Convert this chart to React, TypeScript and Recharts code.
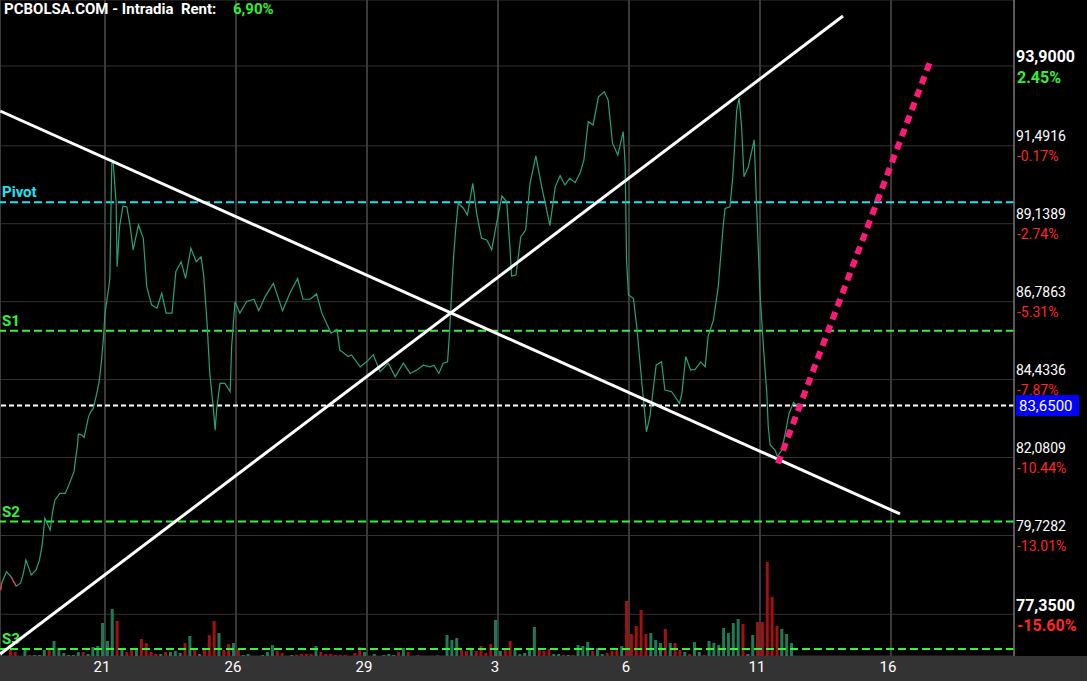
import {
  Bar,
  CartesianGrid,
  ComposedChart,
  Line,
  ReferenceLine,
  XAxis,
  YAxis,
} from 'recharts'

// x is measured in hourly bars (9 per session); ticks sit on session boundaries
const dayTicks = [21.5, 48.5, 75.5, 102.5, 129.5, 156.5, 183.5]
const dayLabels = ['21', '26', '29', '3', '6', '11', '16']

const priceTicks = [93.9, 91.4916, 89.1389, 86.7863, 84.4336, 82.0809, 79.7282, 77.35]
const pctLabels = ['2.45%', '-0.17%', '-2.74%', '-5.31%', '-7.87%', '-10.44%', '-13.01%', '-15.60%']

const levelNames = ['Pivot', 'S1', 'S2', 'S3']
const levelValues = [89.79, 85.91, 80.15, 76.3]
const levelColors = ['#1fe3f2', '#3af03a', '#3af03a', '#3af03a']
const lastPrice = 83.65

// intraday price trace (bar index, price)
const priceIdx = [
  0, 0.2, 1.2, 2.1, 3.2, 4.1, 4.7, 5.2, 5.7, 6.3, 7.3, 8.0, 8.5, 8.8, 9.1, 9.7, 10.2, 10.7, 11.2, 12.2,
  13.3, 13.9, 14.6, 15.1, 15.5, 15.8, 16.0, 16.7, 17.2, 17.6, 18.1, 18.6, 19.1, 19.8, 20.3, 20.8, 21.2, 21.5, 21.9, 22.2,
  22.5, 22.9, 23.2, 23.8, 24.0, 24.5, 25.2, 26.0, 26.7, 27.3, 28.4, 29.4, 30.1, 31.1, 32.2, 33.2, 34.1, 35.3, 36.1, 37.2,
  38.1, 39.2, 40.3, 41.3, 41.8, 42.5, 43.1, 43.8, 44.2, 44.5, 45.2, 46.2, 47.3, 47.6, 48.3, 49.3, 50.7, 52.2, 53.2, 54.5,
  56.2, 58.1, 59.6, 61.2, 62.3, 63.8, 65.1, 66.2, 68.1, 69.3, 69.9, 71.6, 72.3, 74.1, 75.4, 76.8, 78.2, 79.9, 81.3, 83.0,
  84.4, 85.7, 87.1, 88.5, 89.3, 90.3, 91.2, 92.1, 92.5, 93.0, 93.4, 93.8, 94.3, 95.4, 96.2, 97.3, 98.1, 99.1, 100.2, 101.2,
  102.2, 103.3, 104.3, 105.0, 105.3, 106.2, 107.2, 108.2, 109.1, 110.3, 111.5, 112.4, 113.2, 114.3, 115.3, 116.3, 117.3, 118.4, 119.4, 120.2,
  121.1, 122.1, 123.2, 124.4, 125.2, 126.1, 127.2, 128.3, 128.7, 129.0, 129.4, 130.4, 131.1, 132.1, 133.1, 133.8, 135.1, 136.2, 136.9, 138.3,
  139.9, 140.4, 141.2, 142.2, 143.1, 144.3, 145.2, 145.8, 146.9, 147.9, 148.9, 149.3, 150.3, 150.9, 151.7, 152.2, 152.7, 153.2, 154.1, 155.3,
  155.7, 156.5, 157.2, 157.9, 158.2, 158.6, 159.6, 160.1, 161.0, 161.7, 162.5, 163.4, 164.1,
]
const priceVal = [
  78.08, 78.29, 78.64, 78.49, 78.2, 78.29, 78.6, 78.99, 78.79, 78.54, 78.69, 78.99, 79.39, 79.79, 80.25, 80.05, 79.89, 80.45, 80.8, 81.0,
  81.0, 81.2, 81.46, 81.65, 82.11, 82.41, 82.79, 82.76, 82.69, 82.96, 83.31, 83.47, 83.57, 84.02, 84.37, 85.03, 85.73, 86.44, 86.84, 87.14,
  87.49, 90.96, 90.96, 89.76, 87.84, 89.05, 89.67, 89.65, 89.05, 88.35, 89.1, 88.7, 87.24, 86.69, 86.59, 87.04, 86.44, 86.44, 87.69, 87.99,
  87.49, 88.4, 87.99, 88.14, 87.64, 86.23, 84.62, 83.62, 82.91, 83.52, 84.32, 84.32, 84.07, 85.43, 86.79, 86.44, 86.79, 86.86, 86.51, 86.94,
  87.34, 86.51, 87.04, 87.49, 86.86, 86.86, 87.02, 86.44, 85.83, 85.95, 85.33, 85.13, 85.18, 84.82, 84.97, 85.18, 84.67, 84.93, 84.52, 84.93,
  84.62, 84.72, 84.87, 84.82, 84.87, 84.62, 84.93, 84.97, 85.83, 87.24, 88.25, 89.0, 89.76, 89.6, 89.4, 90.36, 89.45, 88.7, 88.65, 88.35,
  89.15, 89.98, 89.8, 88.35, 87.56, 87.59, 88.75, 88.95, 90.36, 91.19, 90.26, 89.65, 89.08, 90.26, 90.59, 90.31, 90.51, 90.38, 90.66, 91.06,
  92.22, 92.12, 92.97, 93.12, 92.87, 91.57, 91.21, 91.92, 90.96, 88.04, 86.99, 86.89, 86.03, 84.42, 82.86, 83.31, 84.87, 84.97, 84.12, 84.07,
  83.72, 84.02, 85.13, 84.72, 84.74, 84.97, 84.82, 85.73, 86.23, 87.24, 89.05, 89.6, 89.65, 90.56, 92.57, 92.93, 92.07, 90.56, 90.86, 91.67,
  90.06, 87.04, 85.43, 84.02, 83.01, 82.46, 82.31, 82.11, 82.31, 82.81, 83.42, 83.74, 83.65,
]
// stretches of the trace painted red
const downIdx = [0, 0.2, 1.2, 2.1, 3.2]
const downVal = [78.08, 78.29, null, 78.49, 78.2]

// hourly volume, thousands of shares; g = up bar, r = down bar
const volume = [
  4, 0, 12, 8, 0, 12, 2, 2, 2, 12, 14, 30, 16, 6, 2, 2, 8, 8, 4, 18,
  20, 66, 30, 94, 70, 12, 8, 14, 12, 34, 26, 8, 4, 4, 8, 8, 10, 6, 26, 40,
  14, 4, 12, 42, 70, 46, 12, 24, 26, 14, 2, 4, 0, 0, 2, 8, 22, 10, 6, 0,
  2, 2, 4, 4, 4, 20, 8, 4, 4, 2, 2, 2, 0, 6, 18, 8, 0, 4, 0, 2,
  4, 2, 8, 16, 8, 0, 2, 0, 0, 0, 2, 0, 42, 32, 36, 12, 10, 12, 10, 20,
  6, 24, 72, 10, 16, 30, 12, 4, 6, 14, 58, 12, 10, 14, 4, 4, 2, 2, 2, 22,
  20, 28, 10, 16, 4, 6, 10, 12, 20, 110, 44, 60, 92, 44, 46, 32, 26, 54, 26, 26,
  12, 8, 4, 28, 8, 2, 30, 26, 22, 56, 46, 66, 74, 64, 4, 42, 68, 68, 188, 118,
  60, 54, 44, 26,
]
const volumeDir = [
  'ggrrggrggg', 'rggggggrgg', 'ggggrgrrgr', 'rrrgrgggrg', 'rgrrrgrrgr', 'gggggggrrg',
  'grrrrgrrrr', 'rrgrrggggg', 'ggrgrgrggg', 'rggggrrgrr', 'rrggrrgggg', 'grrrggrgrg',
  'ggrggrrrgr', 'rrrrgggrgr', 'rgrggrgggg', 'gggrggrrrr', 'rggg',
].join('')

// hand-drawn trend lines (bar index, price)
const trendDownIdx = [-0.1, 185.35]
const trendDownVal = [92.54, 80.38]
const trendUpIdx = [-0.1, 173.6]
const trendUpVal = [76.15, 95.41]
const projectionIdx = [160.2, 191.6]
const projectionVal = [81.9, 94.05]

const xDomain = [-0.14, 208.85]
const priceDomain = [76.091, 95.892]
const volumeMax = 1312

const chartData = volume.map((vol, i) => ({ i, vol, dir: volumeDir[i] }))
const toPoints = (idx: number[], val: (number | null)[]) => idx.map((i, k) => ({ i, v: val[k] }))
const pricePoints = toPoints(priceIdx, priceVal)
const downPoints = toPoints(downIdx, downVal)

const fmtPrice = (v: number) => v.toFixed(4).replace('.', ',')

function VolumeBar(props: any) {
  const { x, y, width, height, payload } = props
  if (!height || height <= 0) return null
  const cx = x + width / 2
  return (
    <rect
      x={cx - 1.5}
      y={y}
      width={3}
      height={height}
      fill={payload.dir === 'r' ? '#a01212' : '#1f7a55'}
    />
  )
}

function PriceTick(props: any) {
  const { x, y, payload } = props
  const idx = priceTicks.findIndex((t) => Math.abs(t - payload.value) < 1e-6)
  if (idx < 0) return null
  const strong = idx === 0 || idx === priceTicks.length - 1
  const pct = pctLabels[idx]
  const pctColor = pct.startsWith('-') ? '#ff2626' : '#33ee33'
  return (
    <g>
      <text
        x={x}
        y={y - (strong ? 3.5 : 4.5)}
        fill="#ffffff"
        fontSize={strong ? 16 : 14}
        fontWeight={strong ? 700 : 400}
        textAnchor="start"
      >
        {fmtPrice(payload.value)}
      </text>
      <text
        x={x + 1}
        y={y + (strong ? 17 : 15)}
        fill={pctColor}
        fontSize={strong ? 16 : 14}
        fontWeight={strong ? 700 : 400}
        textAnchor="start"
      >
        {pct}
      </text>
    </g>
  )
}

function LevelLabel({ viewBox, text, color }: any) {
  if (!viewBox) return null
  return (
    <text x={viewBox.x + 2} y={viewBox.y - 5} fill={color} fontSize={15} fontWeight={700}>
      {text}
    </text>
  )
}

function LastPriceTag({ viewBox }: any) {
  if (!viewBox) return null
  const x = viewBox.x + viewBox.width + 2
  const y = viewBox.y
  return (
    <g>
      <rect x={x} y={y - 10.5} width={63} height={21} fill="#0000ff" />
      <text x={x + 3} y={y + 5.5} fill="#ffffff" fontSize={15}>
        {fmtPrice(lastPrice)}
      </text>
    </g>
  )
}

export default function App() {
  return (
    <div
      style={{
        position: 'absolute',
        left: 0,
        top: 0,
        width: 1087,
        height: 681,
        background: '#000',
        fontFamily: 'Roboto, sans-serif',
        overflow: 'hidden',
      }}
    >
      <div style={{ position: 'absolute', left: 0, bottom: 0, width: 1087, height: 25, background: '#333' }} />
      <ComposedChart
        width={1087}
        height={681}
        data={chartData}
        margin={{ top: 0, right: 0, bottom: 0, left: 0 }}
        style={{ position: 'absolute', left: 0, top: 0, fontFamily: 'Roboto, sans-serif' }}
      >
        <CartesianGrid yAxisId="price" vertical={false} stroke="#343434" strokeWidth={1} />
        <CartesianGrid yAxisId="price" horizontal={false} stroke="#3a3a3a" strokeWidth={2} />
        <XAxis
          dataKey="i"
          type="number"
          domain={xDomain}
          allowDataOverflow
          ticks={dayTicks}
          interval={0}
          tickFormatter={(v: number) => dayLabels[dayTicks.indexOf(v)] ?? ''}
          height={25}
          axisLine={false}
          tickLine={false}
          tickSize={0}
          tickMargin={5}
          tick={{ fill: '#ffffff', fontSize: 15, dx: -3 }}
        />
        <YAxis
          yAxisId="price"
          orientation="right"
          width={73}
          domain={priceDomain}
          allowDataOverflow
          ticks={priceTicks}
          interval={0}
          axisLine={{ stroke: '#666', strokeWidth: 1.5 }}
          tickLine={false}
          tickSize={0}
          tickMargin={2}
          tick={<PriceTick />}
        />
        <YAxis yAxisId="vol" hide domain={[0, volumeMax]} allowDataOverflow />
        <ReferenceLine yAxisId="price" x={xDomain[0]} stroke="#3a3a3a" strokeWidth={2} />

        <Bar
          yAxisId="vol"
          dataKey="vol"
          barSize={3}
          shape={<VolumeBar />}
          isAnimationActive={false}
        />

        {levelValues.map((v, k) => (
          <ReferenceLine
            key={levelNames[k]}
            yAxisId="price"
            y={v}
            stroke={levelColors[k]}
            strokeWidth={2}
            strokeDasharray="8 4"
            label={<LevelLabel text={levelNames[k]} color={levelColors[k]} />}
          />
        ))}
        <ReferenceLine
          yAxisId="price"
          y={lastPrice}
          stroke="#ffffff"
          strokeWidth={2}
          strokeDasharray="5 3"
          label={<LastPriceTag />}
        />

        <Line
          yAxisId="price"
          data={pricePoints}
          dataKey="v"
          type="linear"
          stroke="#27a374"
          strokeWidth={1.2}
          dot={false}
          activeDot={false}
          isAnimationActive={false}
        />
        <Line
          yAxisId="price"
          data={downPoints}
          dataKey="v"
          type="linear"
          stroke="#e0404a"
          strokeWidth={1.2}
          dot={false}
          activeDot={false}
          isAnimationActive={false}
        />
        <Line
          yAxisId="price"
          data={toPoints(trendDownIdx, trendDownVal)}
          dataKey="v"
          type="linear"
          stroke="#ffffff"
          strokeWidth={3}
          dot={false}
          activeDot={false}
          isAnimationActive={false}
        />
        <Line
          yAxisId="price"
          data={toPoints(trendUpIdx, trendUpVal)}
          dataKey="v"
          type="linear"
          stroke="#ffffff"
          strokeWidth={3}
          dot={false}
          activeDot={false}
          isAnimationActive={false}
        />
        <Line
          yAxisId="price"
          data={toPoints(projectionIdx, projectionVal)}
          dataKey="v"
          type="linear"
          stroke="#ff1a7a"
          strokeWidth={6}
          strokeDasharray="8 6"
          dot={false}
          activeDot={false}
          isAnimationActive={false}
        />
      </ComposedChart>
      <div
        style={{
          position: 'absolute',
          left: 4,
          top: 1,
          fontSize: 15,
          lineHeight: '17px',
          fontWeight: 700,
          color: '#ffffff',
          whiteSpace: 'pre',
        }}
      >
        PCBOLSA.COM - Intradia  Rent:
      </div>
      <div
        style={{
          position: 'absolute',
          left: 233,
          top: 1,
          fontSize: 15,
          lineHeight: '17px',
          fontWeight: 700,
          color: '#33ee33',
        }}
      >
        6,90%
      </div>
    </div>
  )
}
